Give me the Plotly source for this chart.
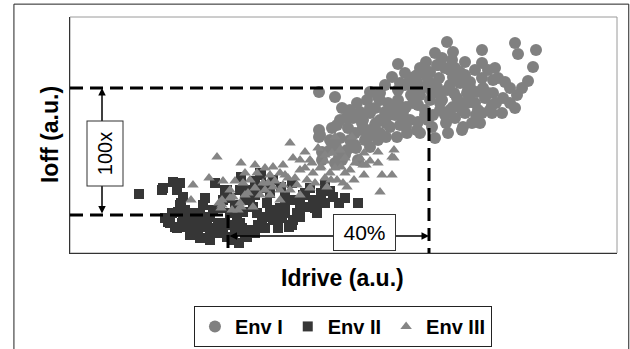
import plotly.graph_objects as go

# ---------------- data (arbitrary units) ----------------
env1_idrive = [377,383,445,448,466,463,412,412,395,365,356,328,322,335,350,367,375,383,369,357,
               347,335,328,343,367,377,390,400,412,423,428,413,407,397,387,397,383,370,370,423,
               433,447,422,422,408,407,393,392,378,402,362,347,337,327,320,310,305,320,333,343,
               350,328,310,297,300,287,283,293,297,310,272,265,249,270,249,249,267,252,266,252,
               275,285,295,278,260,288,315,340,355,360,330,325,315,305,290,280,340,355,363,358,
               375,385,380,392,400,415,440,435,418,425,405,390,382,372,360,347,406,420,292,316,
               308,298,316,336,348,280,286,300,269,250,260,270,277,272,265,344,352,368,380,388,
               400,372,380,336,308,300,306,
               310,318,326,334,341,348,355,362,370,376,384,391,398,405,412,418,426,432,440,445,
               452,458,395,385,360,345,330,318,300,292,285,276,262,305,395,410,350,365]
env1_ioff = [211,201,210,199,203,186,203,190,191,200,191,189,176,180,185,188,185,176,175,176,
             171,168,163,161,166,163,170,171,175,173,175,165,161,160,155,150,146,150,158,160,
             155,158,148,140,143,135,126,123,120,130,126,123,120,116,126,133,145,145,141,150,
             158,153,153,153,161,150,135,133,123,120,145,156,161,133,123,116,128,101,106,93,
             98,108,113,125,113,93,168,133,143,153,128,138,141,128,141,143,173,166,138,133,
             138,135,168,143,153,155,165,171,183,185,183,181,193,195,181,178,138,143,123,130,
             113,116,116,126,131,113,105,106,96,118,103,115,103,93,90,176,183,188,183,173,
             166,153,143,146,156,140,130,
             160,150,145,135,158,148,138,160,143,130,160,150,163,150,140,160,150,140,150,145,
             165,172,178,185,170,165,170,138,145,130,120,135,125,120,140,130,120,115]

env2_idrive = [69,93,103,110,92,107,113,110,108,95,113,117,105,130,140,143,137,145,152,157,
               127,143,147,111,155,145,153,171,179,191,203,211,215,223,219,235,243,251,263,269,
               288,247,227,179,175,167,187,195,203,157,190,222,240,250,230,222,212,205,160,170,
               177,153,183,197,120,125,133,135,163,163,169,107,159,185,175,192,200,215,225,233,
               255,120,130,140,115,98,165,173,188,195,208,
               100,112,123,118,130,102,148,155,165,172,185,192,200,210,180,200,215,230,235,245,
               255,260,275,150,140,128,160,135,170,185]
env2_ioff = [59,65,71,70,63,63,56,48,41,35,36,26,26,28,36,43,26,25,21,16,
             23,23,20,50,63,70,53,76,63,78,73,66,40,33,26,46,53,60,56,50,
             50,40,40,23,20,36,40,36,33,63,80,70,65,51,36,28,35,43,40,30,
             16,23,46,50,33,40,48,35,28,13,10,25,16,58,53,65,60,58,53,58,
             68,18,15,13,43,31,48,41,28,25,25,
             30,30,28,40,38,40,30,30,22,25,20,30,40,45,55,68,50,48,60,45,
             50,62,55,45,20,18,55,55,63,72]

env3_idrive = [147,171,123,139,121,153,220,235,294,308,308,324,324,312,322,310,296,282,265,261,
               284,280,294,271,251,223,213,210,200,187,180,173,193,203,213,220,227,237,243,250,
               242,230,260,257,267,273,277,170,183,168,190,200,210,163,152,152,293,322,149,151,
               171,240,255,248,270,230,218,195,178,160,162,203,
               175,185,195,205,215,225,235,245,255,265,275,285,290,300,240,230,210,198,185,175,
               165,160,255,262,275]
env3_ioff = [96,90,68,75,53,72,110,101,100,101,90,103,95,78,78,61,88,116,116,73,
             73,83,78,86,86,95,88,80,78,80,73,70,70,66,68,63,68,73,80,85,
             90,83,80,66,73,70,66,50,46,43,58,58,53,56,53,48,88,96,50,45,
             46,93,98,105,103,93,75,63,60,63,43,86,
             80,88,85,72,78,75,85,70,75,85,80,90,95,92,65,58,63,70,65,58,
             72,55,92,100,95]

series_names = ["Env I", "Env II", "Env III"]

# annotation values (a.u.)
ioff_high, ioff_low = 165, 38
idrive_high, idrive_low = 359, 158
arrow_x, arrow_y = 32, 17
ratio_label, gain_label = "100x", "40%"

X_RANGE = [0, 547]
Y_RANGE = [0, 236]

FONT = "Liberation Sans, Arial, sans-serif"
GRAY = "#808080"
DARK = "#363636"

fig = go.Figure()
fig.add_trace(go.Scatter(x=env1_idrive, y=env1_ioff, mode="markers", name=series_names[0],
                         marker=dict(symbol="circle", size=12, color=GRAY)))
fig.add_trace(go.Scatter(x=env2_idrive, y=env2_ioff, mode="markers", name=series_names[1],
                         marker=dict(symbol="square", size=10, color=DARK)))
fig.add_trace(go.Scatter(x=env3_idrive, y=env3_ioff, mode="markers", name=series_names[2],
                         marker=dict(symbol="triangle-up", size=10, color="#858585")))

dash = dict(color="black", width=3, dash="13px,7px")
shapes = [
    dict(type="rect", xref="paper", yref="paper", x0=-0.1025, x1=1.0215, y0=-0.43, y1=1.0545,
         line=dict(color="#222222", width=1), layer="below"),
    dict(type="rect", xref="paper", yref="paper", x0=0, x1=1, y0=0, y1=1,
         line=dict(color="#9a9a9a", width=1), layer="below"),
    dict(type="line", xref="x", yref="y", x0=0, x1=idrive_high, y0=ioff_high, y1=ioff_high, line=dash),
    dict(type="line", xref="x", yref="y", x0=idrive_high, x1=idrive_high, y0=ioff_high, y1=0, line=dash),
    dict(type="line", xref="x", yref="y", x0=0, x1=idrive_low, y0=ioff_low, y1=ioff_low, line=dash),
    dict(type="line", xref="x", yref="y", x0=idrive_low, x1=idrive_low, y0=ioff_low, y1=0, line=dash),
]

annotations = [
    dict(x=arrow_x, y=ioff_high, ax=arrow_x, ay=ioff_low, xref="x", yref="y", axref="x", ayref="y",
         text="", showarrow=True, arrowhead=2, arrowside="end+start", arrowsize=1, arrowwidth=1.5,
         arrowcolor="black"),
    dict(x=idrive_high, y=arrow_y, ax=idrive_low, ay=arrow_y, xref="x", yref="y", axref="x", ayref="y",
         text="", showarrow=True, arrowhead=2, arrowside="end+start", arrowsize=1, arrowwidth=1.5,
         arrowcolor="black"),
    dict(x=arrow_x + 2.5, y=99, xref="x", yref="y", text=ratio_label, showarrow=False, textangle=-90,
         font=dict(family=FONT, size=20, color="black"), bgcolor="white", bordercolor="#333333",
         borderwidth=1, borderpad=0, width=64, height=35),
    dict(x=294.5, y=20.5, xref="x", yref="y", text=gain_label, showarrow=False,
         font=dict(family=FONT, size=21, color="black"), bgcolor="white", bordercolor="#333333",
         borderwidth=1, borderpad=0, width=61, height=35),
    dict(x=0.499, y=-0.106, xref="paper", yref="paper", text="Idrive (a.u.)", showarrow=False,
         xanchor="center", yanchor="middle", font=dict(family=FONT, size=23, color="black", weight=700)),
    dict(x=-0.0366, y=0.504, xref="paper", yref="paper", text="Ioff (a.u.)", showarrow=False,
         textangle=-90, xanchor="center", yanchor="middle",
         font=dict(family=FONT, size=23, color="black", weight=700)),
]

fig.update_layout(
    width=630, height=349,
    margin=dict(l=70, r=13, t=17, b=96, autoexpand=False),
    paper_bgcolor="white", plot_bgcolor="white",
    shapes=shapes, annotations=annotations,
    showlegend=True,
    legend=dict(orientation="h", x=0.499, xanchor="center", y=-0.398, yanchor="bottom",
                bordercolor="#222222", borderwidth=1, bgcolor="white",
                font=dict(family=FONT, size=20, color="black", weight=700),
                itemsizing="trace", tracegroupgap=0),
    xaxis=dict(range=X_RANGE, showgrid=False, zeroline=False, showticklabels=False, ticks="",
               showline=True, linecolor="#333333", linewidth=1),
    yaxis=dict(range=Y_RANGE, showgrid=False, zeroline=False, showticklabels=False, ticks="",
               showline=True, linecolor="#333333", linewidth=1),
)

fig.write_html("out.html")
